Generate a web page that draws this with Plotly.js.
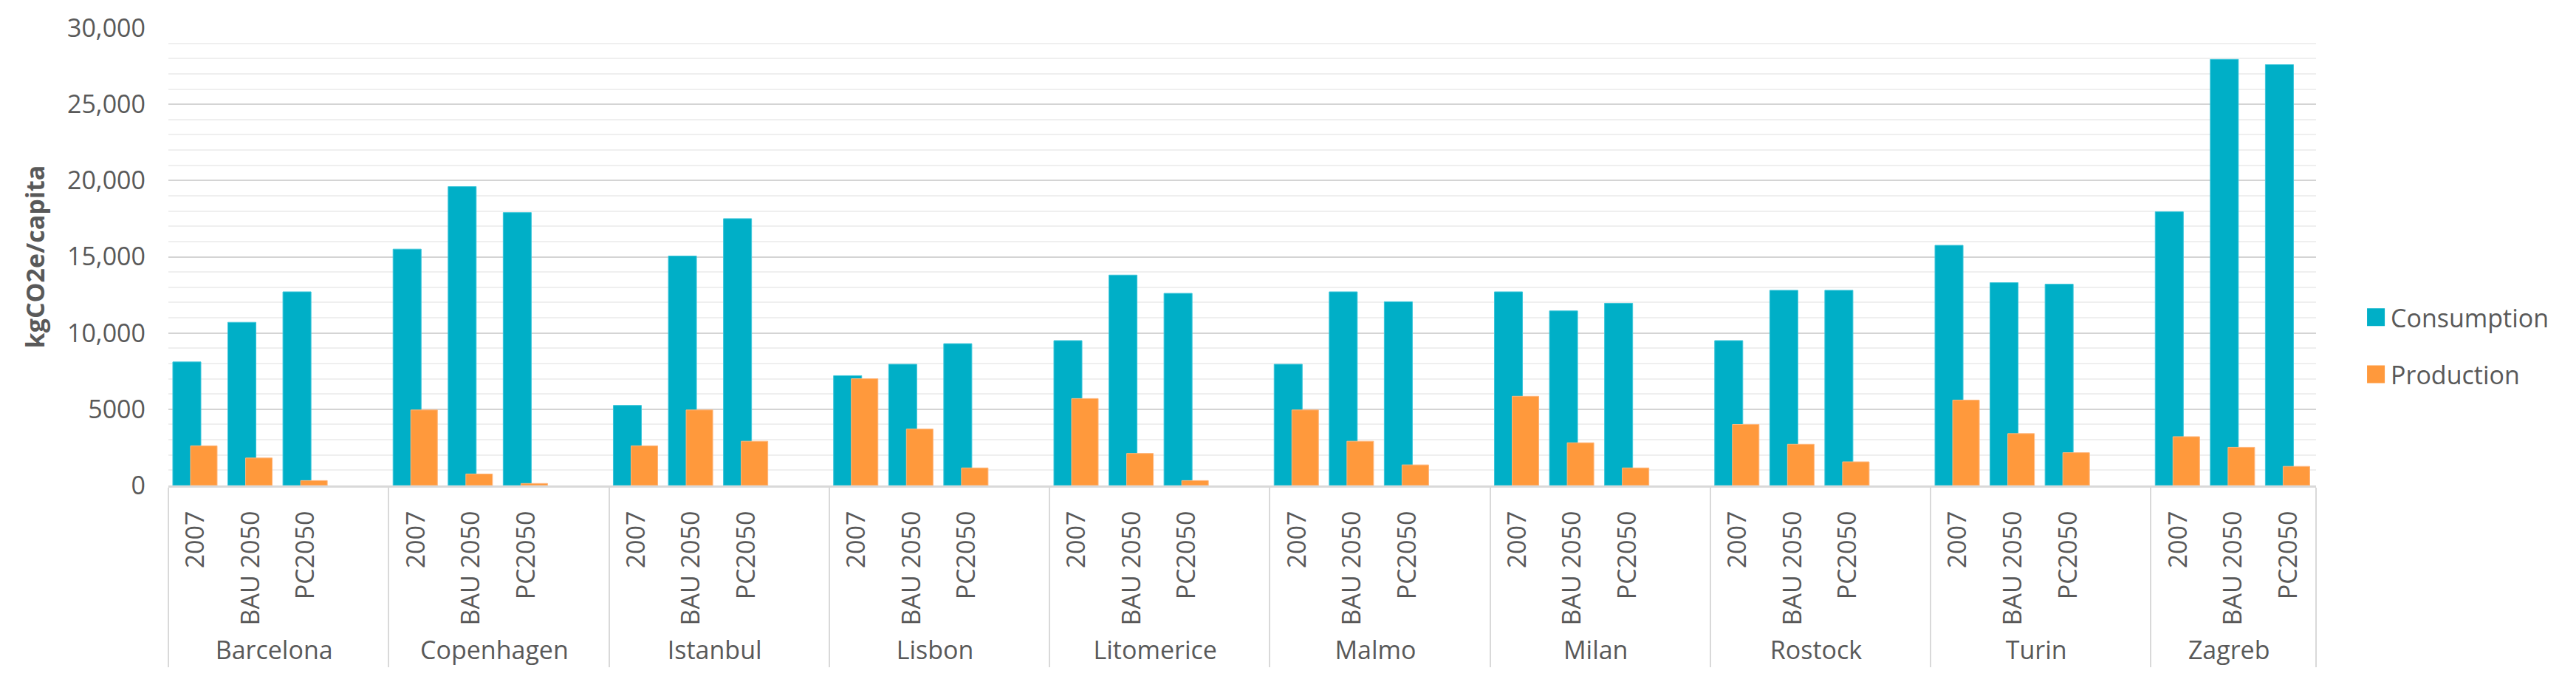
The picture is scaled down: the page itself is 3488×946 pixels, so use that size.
<!DOCTYPE html>
<html>
<head>
<meta charset="utf-8">
<script src="https://cdn.plot.ly/plotly-3.0.1.min.js"></script>
<style>
  html, body { margin: 0; padding: 0; background: #ffffff; }
  #chart { width: 3488px; height: 946px; }
</style>
</head>
<body>
<div id="chart"></div>
<script>
// ---- data ----
const cities = ["Barcelona", "Copenhagen", "Istanbul", "Lisbon", "Litomerice",
                "Malmo", "Milan", "Rostock", "Turin", "Zagreb"];
const scenarios = ["2007", "BAU 2050", "PC2050"];

// kgCO2e/capita, ordered city by city, scenarios in the order above
const consumption = [
  8100, 10700, 12700,    // Barcelona
  15500, 19600, 17900,   // Copenhagen
  5250, 15050, 17500,    // Istanbul
  7200, 7950, 9300,      // Lisbon
  9500, 13800, 12600,    // Litomerice
  7950, 12700, 12050,    // Malmo
  12700, 11450, 11950,   // Milan
  9500, 12800, 12800,    // Rostock
  15750, 13300, 13200,   // Turin
  17950, 27950, 27600    // Zagreb
];
const production = [
  2600, 1800, 320,       // Barcelona
  4950, 750, 130,        // Copenhagen
  2600, 4950, 2900,      // Istanbul
  7000, 3700, 1150,      // Lisbon
  5700, 2100, 320,       // Litomerice
  4950, 2900, 1350,      // Malmo
  5850, 2800, 1150,      // Milan
  4000, 2700, 1550,      // Rostock
  5600, 3400, 2150,      // Turin
  3200, 2500, 1250       // Zagreb
];

const seriesNames = ["Consumption", "Production"];
const seriesColors = ["#00AFC7", "#FF993C"];

const yTickVals = [0, 5000, 10000, 15000, 20000, 25000, 30000];
const yTickText = ["0", "5000", "10,000", "15,000", "20,000", "25,000", "30,000"];
const yAxisTitle = "kgCO2e/capita";

// ---- build multicategory x (with an empty spacer slot after every city but the last) ----
const SPACER = " ";
function buildSeries(values) {
  const outer = [], inner = [], y = [];
  cities.forEach((c, i) => {
    scenarios.forEach((s, j) => {
      outer.push(c); inner.push(s); y.push(values[i * scenarios.length + j]);
    });
    if (i < cities.length - 1) { outer.push(c); inner.push(SPACER); y.push(null); }
  });
  return { x: [outer, inner], y: y };
}

const cData = buildSeries(consumption);
const pData = buildSeries(production);
const nSlots = cData.y.length;

const textColor = "#595959";
const font = "Open Sans, Noto Sans, sans-serif";

const traces = [
  {
    type: "bar", name: seriesNames[0], legendgroup: "g1",
    x: cData.x, y: cData.y,
    width: 0.51, offset: -0.42,
    marker: { color: seriesColors[0], line: { color: "#3cc6da", width: 1 } },
    hoverinfo: "x+y"
  },
  {
    type: "bar", name: seriesNames[1], legendgroup: "g2",
    x: pData.x, y: pData.y,
    width: 0.483, offset: -0.098,
    marker: { color: seriesColors[1], line: { color: "#ffb57a", width: 1 } },
    hoverinfo: "x+y"
  }
];

const layout = {
  width: 3488, height: 946,
  margin: { l: 228, r: 352, t: 38, b: 289, pad: 0 },
  paper_bgcolor: "#ffffff", plot_bgcolor: "#ffffff",
  font: { family: font, size: 34, color: textColor },
  barmode: "overlay",
  showlegend: true,
  legend: {
    x: 1.021, xanchor: "left", y: 0.305, yanchor: "middle",
    font: { family: font, size: 34, color: textColor },
    traceorder: "grouped", tracegroupgap: 30,
    bgcolor: "rgba(0,0,0,0)"
  },
  xaxis: {
    type: "multicategory",
    range: [-0.5, nSlots - 0.5],
    tickangle: -90,
    tickfont: { family: font, size: 34, color: textColor },
    showline: true, linecolor: "#d9d9d9", linewidth: 3,
    showgrid: false, ticks: "",
    showdividers: true, dividercolor: "#d9d9d9", dividerwidth: 2,
    ticklabelstandoff: 18,
    automargin: false
  },
  yaxis: {
    range: [0, 30000],
    tickvals: yTickVals, ticktext: yTickText,
    tickfont: { family: font, size: 34, color: textColor },
    showgrid: true, gridcolor: "#d4d4d4", gridwidth: 2,
    minor: { dtick: 1000, showgrid: true, gridcolor: "#efefef", gridwidth: 2, ticks: "" },
    zeroline: false, showline: false, ticks: "",
    ticklabelstandoff: 30,
    title: { text: "<b>" + yAxisTitle + "</b>", font: { family: font, size: 34, color: textColor }, standoff: 20 },
    automargin: false
  }
};

// Plotly's bar legend swatch is a fixed 12px square; the reference uses a larger one.
function enlargeLegendSwatches() {
  document.querySelectorAll(".legendpoints path").forEach(p => {
    p.setAttribute("d", "M12,12H-12V-12H12Z");
    p.style.strokeWidth = "0px";
  });
}

Plotly.newPlot("chart", traces, layout, { displayModeBar: false, staticPlot: true }).then(enlargeLegendSwatches);
</script>
</body>
</html>
